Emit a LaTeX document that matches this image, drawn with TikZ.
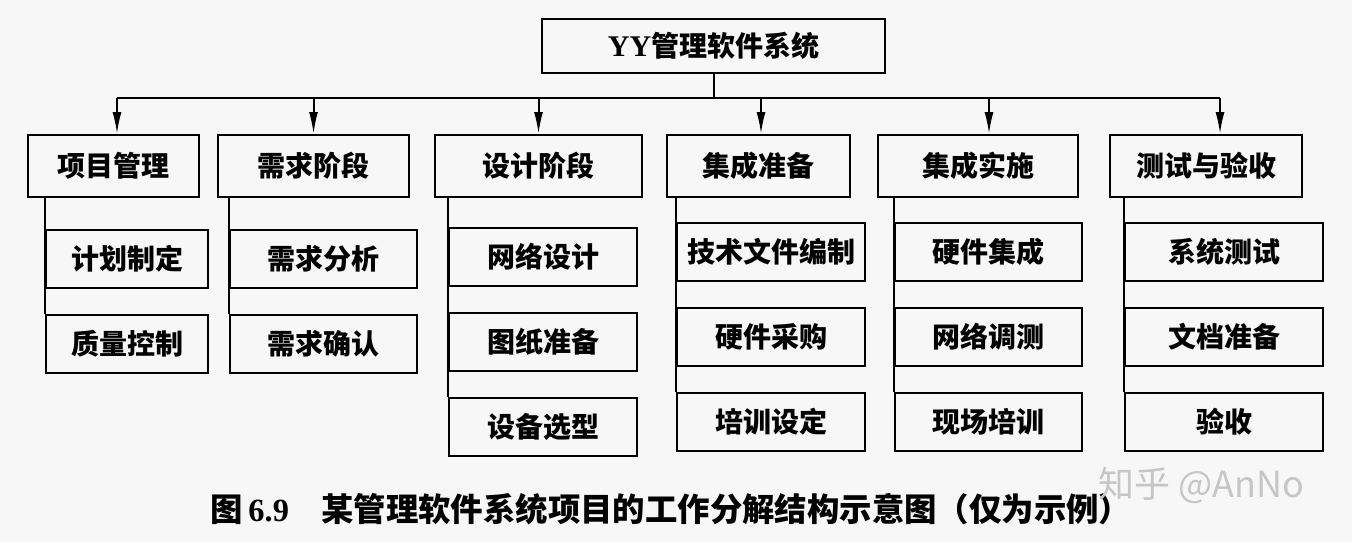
\documentclass[tikz,border=0pt]{standalone}
\usepackage{fontspec}
\setmainfont{Liberation Serif}
\newfontfamily\cjk{Noto Sans CJK SC}
\usetikzlibrary{arrows.meta,
                positioning}
\definecolor{paper}{RGB}{247,247,247}

\begin{document}
\begin{tikzpicture}[
x=0.5pt, y=-0.5pt,
node distance= 12.5pt,
      box/.style = {draw, line width=1pt, inner sep=0pt,
                    font=\cjk\bfseries\fontsize{14}{16}\selectfont},
    phase/.style = {box, minimum height=31pt, anchor=north west},
     task/.style = {box, minimum height=29pt},
     line/.style = {line width=1pt},
    arrow/.style = {-{Latex[length=11pt,width=4.5pt]}, line width=1pt}
                    ]
\useasboundingbox[fill=paper] (0,0) rectangle (1352,542);
 % root
\node (sys) [box, minimum width=171.5pt, minimum height=27pt,
             anchor=north west] at (541,18) {{\rmfamily\fontsize{15}{17}\selectfont YY}管理软件系统};
% phases
\node (p1) [phase, minimum width=85.5pt]  at (27,134)   {项目管理};
\node (p2) [phase, minimum width=95.5pt]  at (217,134)  {需求阶段};
\node (p3) [phase, minimum width=103.5pt] at (434,134)  {设计阶段};
\node (p4) [phase, minimum width=91.5pt]  at (666,134)  {集成准备};
\node (p5) [phase, minimum width=100pt]   at (877,134)  {集成实施};
\node (p6) [phase, minimum width=96pt]    at (1109,134) {测试与验收};
% tasks
\node (p1a) [task, minimum width=81pt, anchor=north west] at (45,229) {计划制定};
\node (p1b) [task, minimum width=81pt, below=of p1a] {质量控制};
\node (p2a) [task, minimum width=93.5pt, anchor=north west] at (229,229) {需求分析};
\node (p2b) [task, minimum width=93.5pt, below=of p2a] {需求确认};
\node (p3a) [task, minimum width=94pt, anchor=north west] at (448,227) {网络设计};
\node (p3b) [task, minimum width=94pt, below=of p3a] {图纸准备};
\node (p3c) [task, minimum width=94pt, below=of p3b] {设备选型};
\node (p4a) [task, minimum width=94pt, anchor=north west] at (676,222) {技术文件编制};
\node (p4b) [task, minimum width=94pt, below=of p4a] {硬件采购};
\node (p4c) [task, minimum width=94pt, below=of p4b] {培训设定};
\node (p5a) [task, minimum width=93.5pt, anchor=north west] at (894,222) {硬件集成};
\node (p5b) [task, minimum width=93.5pt, below=of p5a] {网络调测};
\node (p5c) [task, minimum width=93.5pt, below=of p5b] {现场培训};
\node (p6a) [task, minimum width=99pt, anchor=north west] at (1124,222) {系统测试};
\node (p6b) [task, minimum width=99pt, below=of p6a] {文档准备};
\node (p6c) [task, minimum width=99pt, below=of p6b] {验收};
% caption
\node (cap) [font=\bfseries\fontsize{16.2}{18}\selectfont] at (671,509)
     {{\cjk 图}\,6.9\quad{\cjk 某管理软件系统项目的工作分解结构示意图（仅为示例）}};
\node (mark) [text=gray!45, font=\cjk\fontsize{18}{20}\selectfont] at (1201,485) {知乎 @AnNo};

% bus
\coordinate (bus) at (712,98);
\coordinate (a1) at ([xshift=1.75pt]p1.north);
\coordinate (a2) at (p2.north);
\coordinate (a3) at (p3.north);
\coordinate (a4) at ([xshift=1.25pt]p4.north);
\coordinate (a5) at ([xshift=5.5pt]p5.north);
\coordinate (a6) at ([xshift=7pt]p6.north);
\draw[line] (sys.south) -- (sys.south |- bus);
\draw[line] (a1 |- bus) -- (a6 |- bus);
\draw[arrow] (a1 |- bus) -- (a1);
\draw[arrow] (a2 |- bus) -- (a2);
\draw[arrow] (a3 |- bus) -- (a3);
\draw[arrow] (a4 |- bus) -- (a4);
\draw[arrow] (a5 |- bus) -- (a5);
\draw[arrow] (a6 |- bus) -- (a6);
% spines
\draw[line] (p1.south -| p1b.west) -- (p1b.north west);
\draw[line] (p2.south -| p2b.west) -- (p2b.north west);
\draw[line] (p3.south -| p3c.west) -- (p3c.north west);
\draw[line] (p4.south -| p4c.west) -- (p4c.north west);
\draw[line] (p5.south -| p5c.west) -- (p5c.north west);
\draw[line] (p6.south -| p6c.west) -- (p6c.north west);
\end{tikzpicture}
\end{document}
